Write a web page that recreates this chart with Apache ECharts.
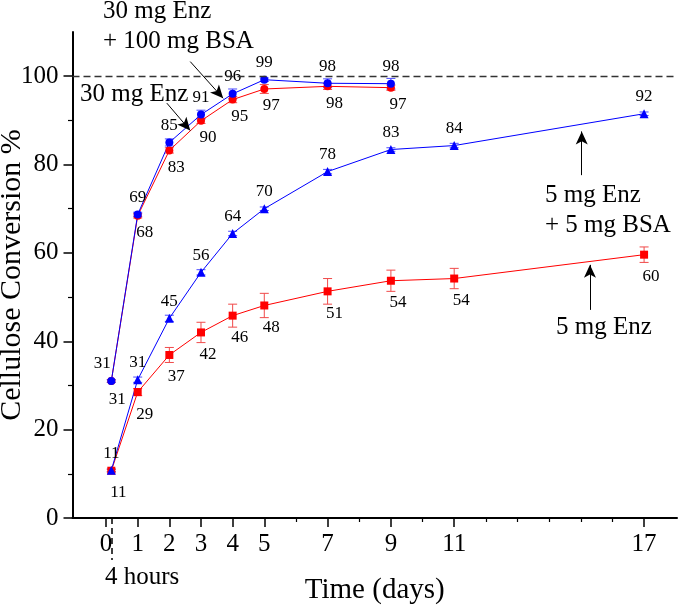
<!DOCTYPE html>
<html>
<head>
<meta charset="utf-8">
<script src="https://cdn.jsdelivr.net/npm/echarts@6/dist/echarts.min.js"></script>
<style>html,body{margin:0;padding:0;background:#fff;}#c{width:685px;height:606px;}</style>
</head>
<body>
<div id="c"></div>
<script>
// ---------------- data ----------------
const timeA = [4/24, 1, 2, 3, 4, 5, 7, 9];            // 30 mg series (days)
const timeB = [4/24, 1, 2, 3, 4, 5, 7, 9, 11, 17];    // 5 mg series (days)
const enz30      = [31.0, 68.4, 83.2, 89.9, 94.7, 97.1, 97.7, 97.4];
const enz30Err   = [0.3, 0.5, 0.6, 0.6, 0.7, 1.0, 0.7, 0.6];
const enz30bsa   = [31.0, 68.7, 85.0, 91.3, 96.0, 99.2, 98.4, 98.3];
const enz30bsaErr= [0.3, 0.5, 0.8, 1.0, 1.1, 0.4, 1.0, 1.2];
const enz5       = [10.7, 28.5, 36.9, 42.0, 45.8, 48.1, 51.3, 53.7, 54.2, 59.6];
const enz5Err    = [0.3, 0.8, 1.7, 2.3, 2.6, 2.75, 2.9, 2.4, 2.3, 1.75];
const enz5bsa    = [10.8, 31.3, 45.2, 55.6, 64.4, 70.0, 78.4, 83.4, 84.3, 91.5];
const enz5bsaErr = [0.3, 0.6, 0.7, 0.6, 0.5, 0.4, 0.5, 0.4, 0.5, 0.4];
const xTickValues  = [0, 1, 2, 3, 4, 5, 7, 9, 11, 17];
const xMinorTicks  = [6, 8, 10, 12, 13, 14, 15, 16];
const fourHours    = [4/24];
const yTickValues  = [0, 20, 40, 60, 80, 100];
const yMinorTicks  = [10, 30, 50, 70, 90];
const fullConversion = 100;

// ---------------- styling ----------------
const FONT = '"Liberation Serif", "Times New Roman", serif';
const RED = '#ff0000', BLUE = '#0000ff';
const XMIN = -1.06, XMAX = 18.04;

function pts(xs, ys, offsets) {
  return xs.map((x, i) => ({
    value: [x, ys[i]],
    label: { offset: offsets[i] }
  }));
}
function errData(xs, ys, es) {
  return xs.map((x, i) => [x, ys[i] - es[i], ys[i] + es[i]]);
}
function errSeries(data, color) {
  return {
    type: 'custom', xAxisIndex: 0, yAxisIndex: 0, z: 3, silent: true,
    data: data,
    renderItem: function (params, api) {
      const x = api.value(0);
      const lo = api.coord([x, api.value(1)]);
      const hi = api.coord([x, api.value(2)]);
      const w = 4.5;
      const st = { stroke: color, lineWidth: 1 };
      return { type: 'group', children: [
        { type: 'line', shape: { x1: lo[0], y1: lo[1], x2: hi[0], y2: hi[1] }, style: st },
        { type: 'line', shape: { x1: lo[0]-w, y1: lo[1], x2: lo[0]+w, y2: lo[1] }, style: st },
        { type: 'line', shape: { x1: hi[0]-w, y1: hi[1], x2: hi[0]+w, y2: hi[1] }, style: st }
      ]};
    }
  };
}
const labelBase = {
  show: true, position: 'inside', color: '#000', fontFamily: FONT, fontSize: 17,
  formatter: p => String(Math.round(p.value[1]))
};
function lineSeries(name, xs, ys, offsets, color, symbol, size) {
  return {
    name: name, type: 'line', xAxisIndex: 0, yAxisIndex: 0, z: 4,
    data: pts(xs, ys, offsets),
    symbol: symbol, symbolSize: size, showSymbol: true,
    lineStyle: { color: color, width: 1 },
    itemStyle: { color: color },
    label: labelBase
  };
}
const offBlue30 = timeA.map((x, i) => i === 0 ? [-9, -18] : [0, -17]);
const offRed30  = timeA.map((x, i) => i === 0 ? [6, 18] : [7, 17]);
const offBlue5  = timeB.map(() => [0, -17]);
const offRed5   = timeB.map(() => [7, 22]);

function arrow(x1, y1, x2, y2) {
  return [{ coord: [x1, y1] }, { coord: [x2, y2] }];
}

const chart = echarts.init(document.getElementById('c'), null, { renderer: 'canvas' });
const axisCommon = { min: XMIN, max: XMAX, type: 'value', position: 'bottom', gridIndex: 0,
  splitLine: { show: false } };
chart.setOption({
  animation: false,
  backgroundColor: '#fff',
  grid: { left: 72.5, right: 8, top: 32, bottom: 88, containLabel: false, outerBoundsMode: 'none' },
  xAxis: [
    Object.assign({}, axisCommon, {
      name: 'Time (days)', nameLocation: 'middle', nameGap: 58, nameMoveOverlap: false,
      nameTextStyle: { fontFamily: FONT, fontSize: 29, color: '#000' },
      axisLine: { show: true, onZero: false, lineStyle: { color: '#000', width: 2 } },
      axisTick: { show: true, inside: false, length: 9, customValues: xTickValues, lineStyle: { color: '#000', width: 1.5 } },
      axisLabel: { show: true, customValues: xTickValues, margin: 14, color: '#000', fontFamily: FONT, fontSize: 25 }
    }),
    Object.assign({}, axisCommon, {
      axisLine: { show: false, onZero: false },
      axisTick: { show: true, length: 4, customValues: xMinorTicks, lineStyle: { color: '#000', width: 1.2 } },
      axisLabel: { show: false }
    }),
    Object.assign({}, axisCommon, {
      axisLine: { show: false, onZero: false },
      axisTick: { show: true, length: 42, customValues: fourHours, lineStyle: { color: '#000', width: 1.5, type: [6, 4] } },
      axisLabel: { show: false }
    })
  ],
  yAxis: [
    {
      type: 'value', min: 0, max: 110, position: 'left',
      name: 'Cellulose Conversion %', nameLocation: 'middle', nameGap: 45, nameMoveOverlap: false,
      nameTextStyle: { fontFamily: FONT, fontSize: 30, color: '#000' },
      splitLine: { show: false },
      axisLine: { show: true, onZero: false, lineStyle: { color: '#000', width: 2 } },
      axisTick: { show: true, length: 9, customValues: yTickValues, lineStyle: { color: '#000', width: 1.5 } },
      axisLabel: { show: true, customValues: yTickValues, margin: 14, color: '#000', fontFamily: FONT, fontSize: 25 }
    },
    {
      type: 'value', min: 0, max: 110, position: 'left',
      splitLine: { show: false },
      axisLine: { show: false, onZero: false },
      axisTick: { show: true, length: 4.5, customValues: yMinorTicks, lineStyle: { color: '#000', width: 1.2 } },
      axisLabel: { show: false }
    }
  ],
  series: [
    errSeries(errData(timeB, enz5, enz5Err), '#f04a4a'),
    errSeries(errData(timeB, enz5bsa, enz5bsaErr), '#4a4aff'),
    errSeries(errData(timeA, enz30, enz30Err), '#f04a4a'),
    errSeries(errData(timeA, enz30bsa, enz30bsaErr), '#4a4aff'),
    lineSeries('5 mg Enz', timeB, enz5, offRed5, RED, 'rect', 8),
    lineSeries('5 mg Enz + 5 mg BSA', timeB, enz5bsa, offBlue5, BLUE, 'triangle', 9),
    lineSeries('30 mg Enz', timeA, enz30, offRed30, RED, 'circle', 8),
    lineSeries('30 mg Enz + 100 mg BSA', timeA, enz30bsa, offBlue30, BLUE, 'circle', 8),
    {
      type: 'line', data: [], xAxisIndex: 0, yAxisIndex: 0, z: 2,
      markLine: {
        silent: true, symbol: ['none', 'none'], label: { show: false },
        lineStyle: { color: '#333', width: 1.3, type: [7, 4] },
        data: [{ yAxis: fullConversion }]
      }
    },
    {
      type: 'line', data: [], xAxisIndex: 0, yAxisIndex: 0, z: 5,
      markLine: {
        silent: true, symbol: ['none', 'arrow'], symbolSize: [9, 13], label: { show: false },
        lineStyle: { color: '#000', width: 1, type: 'solid' },
        data: [
          arrow(1.92, 93.9, 2.66, 87.7),
          arrow(2.66, 103.3, 3.70, 95.0),
          arrow(15.03, 77.6, 15.03, 87.5),
          arrow(15.29, 47.1, 15.29, 57.3)
        ]
      }
    }
  ],
  graphic: [
    { type: 'text', style: { x: 103, y: 11, text: '30 mg Enz', font: '25px ' + FONT, fill: '#000', verticalAlign: 'middle' } },
    { type: 'text', style: { x: 103, y: 41, text: '+ 100 mg BSA', font: '25px ' + FONT, fill: '#000', verticalAlign: 'middle' } },
    { type: 'text', style: { x: 80, y: 94, text: '30 mg Enz', font: '25px ' + FONT, fill: '#000', verticalAlign: 'middle' } },
    { type: 'text', style: { x: 545, y: 195, text: '5 mg Enz', font: '25px ' + FONT, fill: '#000', verticalAlign: 'middle' } },
    { type: 'text', style: { x: 545, y: 225, text: '+ 5 mg BSA', font: '25px ' + FONT, fill: '#000', verticalAlign: 'middle' } },
    { type: 'text', style: { x: 556, y: 327, text: '5 mg Enz', font: '25px ' + FONT, fill: '#000', verticalAlign: 'middle' } },
    { type: 'text', style: { x: 105, y: 577, text: '4 hours', font: '25px ' + FONT, fill: '#000', verticalAlign: 'middle' } }
  ]
});
</script>
</body>
</html>
